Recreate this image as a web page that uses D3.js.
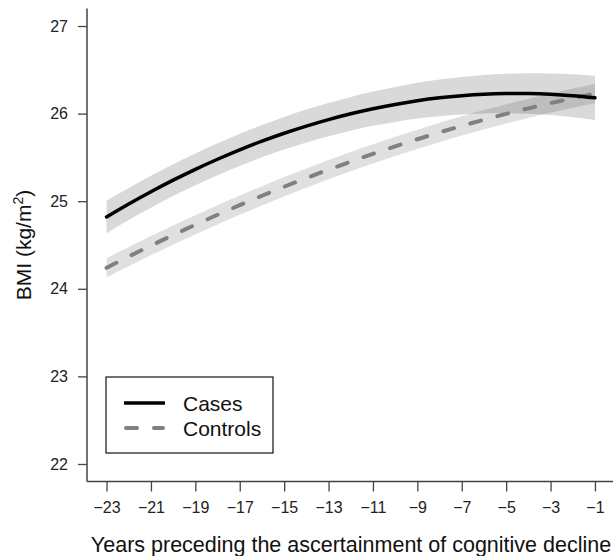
<!DOCTYPE html>
<html>
<head>
<meta charset="utf-8">
<script src="https://cdn.jsdelivr.net/npm/d3@7"></script>
<style>
  html, body { margin: 0; padding: 0; background: #fff; }
  svg { display: block; font-family: "Liberation Sans", Arial, sans-serif; }
</style>
</head>
<body>
<svg id="chart" width="613" height="556"></svg>
<script>
// Years before ascertainment
const years = [-23,-22,-21,-20,-19,-18,-17,-16,-15,-14,-13,-12,-11,-10,-9,-8,-7,-6,-5,-4,-3,-2,-1];

// Cases: fitted BMI and 95% band
const casesFit = [24.820,24.968,25.108,25.240,25.364,25.479,25.586,25.685,25.776,25.858,25.932,25.998,26.056,26.105,26.147,26.180,26.204,26.221,26.229,26.229,26.221,26.204,26.180];
const casesLow = [24.635,24.784,24.925,25.058,25.182,25.297,25.403,25.501,25.591,25.671,25.742,25.805,25.860,25.905,25.943,25.971,25.990,26.002,26.004,25.998,25.983,25.958,25.927];
const casesUp  = [25.006,25.152,25.291,25.422,25.546,25.661,25.769,25.869,25.962,26.046,26.122,26.191,26.252,26.305,26.351,26.389,26.418,26.440,26.454,26.461,26.459,26.450,26.433];

// Controls: fitted BMI and 95% band
const ctrlFit = [24.240,24.368,24.493,24.614,24.731,24.845,24.955,25.062,25.165,25.264,25.360,25.452,25.541,25.626,25.707,25.785,25.859,25.930,25.997,26.060,26.120,26.176,26.229];
const ctrlLow = [24.130,24.258,24.383,24.504,24.621,24.735,24.845,24.952,25.055,25.154,25.250,25.342,25.431,25.516,25.597,25.675,25.749,25.820,25.887,25.950,26.010,26.066,26.119];
const ctrlUp  = [24.350,24.478,24.603,24.724,24.841,24.955,25.065,25.172,25.275,25.374,25.470,25.562,25.651,25.736,25.817,25.895,25.969,26.040,26.107,26.170,26.230,26.286,26.339];

const xTicks = [-23,-21,-19,-17,-15,-13,-11,-9,-7,-5,-3,-1];
const yTicks = [22,23,24,25,26,27];

const svg = d3.select("#chart");

const x = d3.scaleLinear().domain([-23.88, -0.12]).range([87, 614.5]);
const y = d3.scaleLinear().domain([21.8, 27.2]).range([481.5, 8.5]);

const rows = years.map((yr, i) => ({
  yr, cf: casesFit[i], cl: casesLow[i], cu: casesUp[i],
  kf: ctrlFit[i], kl: ctrlLow[i], ku: ctrlUp[i]
}));

const curve = d3.curveNatural;
const plot = svg.append("g");

// confidence bands
plot.append("path")
  .datum(rows)
  .attr("d", d3.area().x(d => x(d.yr)).y0(d => y(d.cl)).y1(d => y(d.cu)).curve(curve))
  .attr("fill", "#000").attr("fill-opacity", 0.15);
plot.append("path")
  .datum(rows)
  .attr("d", d3.area().x(d => x(d.yr)).y0(d => y(d.kl)).y1(d => y(d.ku)).curve(curve))
  .attr("fill", "#000").attr("fill-opacity", 0.12);

// fitted lines
plot.append("path")
  .datum(rows)
  .attr("d", d3.line().x(d => x(d.yr)).y(d => y(d.kf)).curve(curve))
  .attr("fill", "none").attr("stroke", "#808080").attr("stroke-width", 4)
  .attr("stroke-dasharray", "11,17").attr("stroke-linecap", "round");
plot.append("path")
  .datum(rows)
  .attr("d", d3.line().x(d => x(d.yr)).y(d => y(d.cf)).curve(curve))
  .attr("fill", "none").attr("stroke", "#000").attr("stroke-width", 3.5)
  .attr("stroke-linecap", "round");

// axes
const axisColor = "#444";
const gx = svg.append("g").attr("transform", "translate(0,481.5)")
  .call(d3.axisBottom(x).tickValues(xTicks).tickSize(10).tickPadding(10)
        .tickFormat(d => d3.format("d")(d).replace("-", "\u2212").replace("\u2212", "\u2212")));
gx.select(".domain").attr("d", `M87,0H613`).attr("stroke", axisColor).attr("stroke-width", 1.5);
gx.selectAll(".tick line").attr("stroke", axisColor).attr("stroke-width", 1.3);
gx.selectAll(".tick text").attr("font-size", 16).attr("fill", "#222")
  .attr("font-family", "Liberation Sans, Arial, sans-serif").attr("dy", "0.71em");

const gy = svg.append("g").attr("transform", "translate(87,0)")
  .call(d3.axisLeft(y).tickValues(yTicks).tickSize(9).tickPadding(10).tickFormat(d3.format("d")));
gy.select(".domain").attr("d", `M0,8.5V481.5`).attr("stroke", axisColor).attr("stroke-width", 1.5);
gy.selectAll(".tick line").attr("stroke", axisColor).attr("stroke-width", 1.3);
gy.selectAll(".tick text").attr("font-size", 16).attr("fill", "#222")
  .attr("font-family", "Liberation Sans, Arial, sans-serif");

// axis titles
svg.append("text")
  .attr("x", 351).attr("y", 552)
  .attr("text-anchor", "middle").attr("font-size", 21.5).attr("fill", "#111")
  .text("Years preceding the ascertainment of cognitive decline");

const yl = svg.append("text")
  .attr("transform", "translate(31,245) rotate(-90)")
  .attr("text-anchor", "middle").attr("font-size", 21).attr("fill", "#111");
yl.append("tspan").text("BMI (kg/m");
yl.append("tspan").attr("font-size", 14).attr("dy", -8).text("2");
yl.append("tspan").attr("dy", 8).text(")");

// legend
const lg = svg.append("g");
lg.append("rect").attr("x", 106).attr("y", 377).attr("width", 167).attr("height", 76)
  .attr("fill", "#fff").attr("stroke", "#111").attr("stroke-width", 1.2);
const legendItems = [
  { label: "Cases", color: "#000", dash: null, w: 3.5, yy: 403 },
  { label: "Controls", color: "#808080", dash: "11,17", w: 4, yy: 428 }
];
legendItems.forEach(it => {
  const l = lg.append("line").attr("x1", 126).attr("x2", 163)
    .attr("y1", it.yy).attr("y2", it.yy)
    .attr("stroke", it.color).attr("stroke-width", it.w).attr("stroke-linecap", "round");
  if (it.dash) l.attr("stroke-dasharray", it.dash);
  else l.attr("stroke-linecap", "butt").attr("x1", 124).attr("x2", 165);
  lg.append("text").attr("x", 183).attr("y", it.yy + 7.5)
    .attr("font-size", 21).attr("fill", "#111").text(it.label);
});
</script>
</body>
</html>
